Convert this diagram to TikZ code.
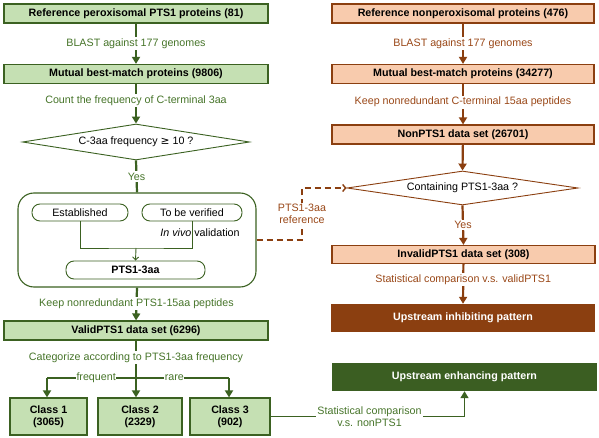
\documentclass[tikz,border=0pt]{standalone}
\usepackage{fontspec}
\setmainfont{Liberation Sans}
\newfontfamily\symfont{DejaVu Sans}
\usetikzlibrary{shapes.geometric,arrows.meta}
\definecolor{gfill}{HTML}{C5E0B3}
\definecolor{gline}{HTML}{3B6121}
\definecolor{gtext}{HTML}{47752A}
\definecolor{gdark}{HTML}{3B5E22}
\definecolor{bfill}{HTML}{F8CBAD}
\definecolor{bline}{HTML}{8B3F10}
\definecolor{btext}{HTML}{9A4818}
\definecolor{bdark}{HTML}{8B3F10}
\begin{document}
\begin{tikzpicture}[x=1pt,y=-1pt,
  every node/.style={font=\fontsize{10.7}{12}\selectfont, inner sep=0pt},
  gbox/.style={draw=gline, fill=gfill, line width=1.2pt, font=\fontsize{10.7}{12}\selectfont\bfseries},
  bbox/.style={draw=bline, fill=bfill, line width=1.2pt, font=\fontsize{10.7}{12}\selectfont\bfseries},
  rbox/.style={draw=gline, rounded corners=8pt, line width=0.9pt},
  gdia/.style={draw=gline, diamond, line width=0.9pt, fill=white},
  bdia/.style={draw=bline, diamond, line width=0.9pt, fill=white},
  glab/.style={text=gtext, fill=white, inner sep=1.5pt, align=center},
  blab/.style={text=btext, fill=white, inner sep=1.5pt, align=center},
  garr/.style={draw=gline, line width=2.2pt, -{Triangle[length=7pt,width=8pt]}},
  gline/.style={draw=gline, line width=2.2pt},
  barr/.style={draw=bline, line width=2.2pt, -{Triangle[length=7pt,width=8pt]}},
  thin/.style={draw=gline, line width=0.9pt},
]
\useasboundingbox (0,0) rectangle (599,438);
% left column
\node[gbox, minimum width=264pt, minimum height=19pt] (L1) at (136,13.5) {Reference peroxisomal PTS1 proteins (81)};
\node[gbox, minimum width=264pt, minimum height=19pt] (L2) at (136,74) {Mutual best-match proteins (9806)};
\node[gdia, shape aspect=6.3, minimum width=227pt, minimum height=36pt] (D1) at (136,142) {C-3aa frequency {\symfont ≥} 10 ?};
\node[draw=gline, line width=1.1pt, rounded corners=16pt, minimum width=238pt, minimum height=94pt] (BIG) at (137,240) {};
\node[rbox, minimum width=96pt, minimum height=17pt] (EST) at (80,212.5) {Established};
\node[rbox, minimum width=100pt, minimum height=17pt] (TBV) at (192,212.5) {To be verified};
\node[rbox, minimum width=139pt, minimum height=18pt, font=\fontsize{10.7}{12}\selectfont\bfseries] (P3) at (135.5,270) {PTS1-3aa};
\node (IVV) at (200,233) {\itshape In vivo\upshape\ validation};
\coordinate (J) at (136,248);
\node[gbox, minimum width=264pt, minimum height=19pt] (VAL) at (136,330.5) {ValidPTS1 data set (6296)};
\node[gbox, minimum width=77pt, minimum height=37pt, align=center] (C1) at (48.5,416.5) {Class 1\\(3065)};
\node[gbox, minimum width=84pt, minimum height=37pt, align=center] (C2) at (140,416.5) {Class 2\\(2329)};
\node[gbox, minimum width=80pt, minimum height=37pt, align=center] (C3) at (230,416.5) {Class 3\\(902)};
\coordinate (BL) at (47,378);
\coordinate (BR) at (229,378);
% right column
\node[bbox, minimum width=262pt, minimum height=19pt] (R1) at (463,13.5) {Reference nonperoxisomal proteins (476)};
\node[bbox, minimum width=262pt, minimum height=19pt] (R2) at (463,74) {Mutual best-match proteins (34277)};
\node[bbox, minimum width=262pt, minimum height=19pt] (R3) at (463,134.5) {NonPTS1 data set (26701)};
\node[bdia, shape aspect=6.8, minimum width=231pt, minimum height=34pt] (D2) at (462.5,188) {Containing PTS1-3aa ?};
\node[bbox, minimum width=263pt, minimum height=18pt] (R4) at (463.5,254.5) {InvalidPTS1 data set (308)};
\node[fill=bdark, minimum width=264pt, minimum height=28pt, text=white, font=\fontsize{10.7}{12}\selectfont\bfseries] (INH) at (463,318) {Upstream inhibiting pattern};
\node[fill=gdark, minimum width=265pt, minimum height=28pt, text=white, font=\fontsize{10.7}{12}\selectfont\bfseries] (ENH) at (464.5,377) {Upstream enhancing pattern};
% left connectors
\draw[garr] (L1) -- node[glab] {BLAST against 177 genomes} (L2);
\draw[garr] (L2) -- node[glab, pos=0.42] {Count the frequency of C-terminal 3aa} (D1);
\draw[gline] (D1.south) -- node[glab] {Yes} (BIG.north);
\draw[thin] (EST.south) |- (J) -| (TBV.south);
\draw[thin, -{Straight Barb[length=3pt,width=6pt]}] (J) -- (P3.north);
\draw[garr] (BIG.south) -- node[glab, pos=0.5] {Keep nonredundant PTS1-15aa peptides} (VAL.north);
\draw[garr] (VAL.south) -- node[glab, pos=0.3] {Categorize according to PTS1-3aa frequency} (VAL.south |- C2.north);
\draw[gline] (BL) -- node[glab, inner sep=0.5pt, pos=0.27] {frequent} node[glab, inner sep=0.5pt, pos=0.70] {rare} (BR);
\draw[garr] (BL) -- (BL |- C1.north);
\draw[garr] (BR) -- (BR |- C3.north);
\draw[draw=gline, line width=1.6pt, -{Triangle[length=7pt,width=8pt]}] (C3.east) -- node[glab, pos=0.51] {Statistical comparison\\v.s. nonPTS1} (C3.east -| ENH.south) -- (ENH.south);
% right connectors
\draw[barr] (R1) -- node[blab] {BLAST against 177 genomes} (R2);
\draw[barr] (R2) -- node[blab, pos=0.45] {Keep nonredundant C-terminal 15aa peptides} (R3);
\draw[barr] (R3) -- (D2.north);
\draw[barr] (D2.south) -- node[blab] {Yes} (R4.north);
\draw[barr] (R4) -- node[blab, pos=0.4] {Statistical comparison v.s. validPTS1} (INH.north);
\draw[draw=bline, line width=1.4pt, dash pattern=on 6pt off 4pt, -{Straight Barb[length=3pt,width=7pt]}] (BIG.east |- 0,240) -| node[blab, pos=0.75] {PTS1-3aa\\reference} (302,188) -- (D2.west);
\end{tikzpicture}
\end{document}
